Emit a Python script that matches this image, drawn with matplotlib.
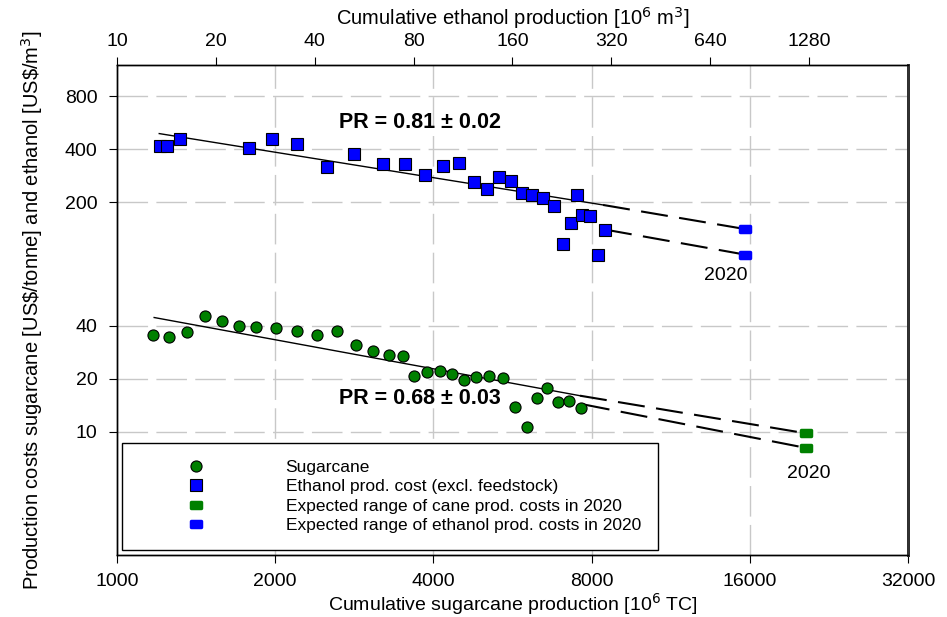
import matplotlib.pyplot as plt
from matplotlib.lines import Line2D
from matplotlib.markers import MarkerStyle
from matplotlib.path import Path
from matplotlib.ticker import NullLocator

plt.rcParams['font.family'] = ['Liberation Sans', 'DejaVu Sans']

# sugarcane: cumulative production [10^6 TC] and cost [US$/tonne]
cane_prod = [1169, 1258, 1361, 1470, 1582, 1707, 1836, 2007, 2200, 2399,
             2622, 2846, 3066, 3289, 3506, 3670, 3894, 4117, 4334, 4580,
             4827, 5103, 5420, 5720, 6028, 6289, 6581, 6915, 7255, 7637]
cane_cost = [35.4, 34.5, 36.7, 45.0, 42.5, 40.0, 39.2, 38.5, 37.0, 35.3,
             37.2, 31.0, 28.8, 27.3, 27.0, 20.8, 21.7, 22.0, 21.3, 19.7,
             20.5, 20.7, 20.1, 13.8, 10.7, 15.5, 17.7, 14.8, 15.0, 13.7]

# ethanol: cumulative production [10^6 m3] and cost [US$/m3]
eth_prod = [13.5, 14.2, 15.6, 25.3, 29.6, 35.4, 43.5, 52.6, 64.4, 75.3,
            86.6, 98.5, 110, 122, 134, 146, 158, 171, 184, 198,
            214, 228, 241, 251, 261, 276, 291, 306]
eth_cost = [414, 419, 456, 405, 459, 430, 317, 376, 329, 331,
            285, 322, 334, 259, 238, 277, 263, 226, 220, 211,
            191, 116, 153, 221, 169, 168, 101, 140]

# experience curves and extrapolation to 2020
cane_fit_x, cane_fit_y = [1177, 7604], [44.4, 16.0]
cane_hi_x, cane_hi_y = [7604, 20440], [16.0, 9.8]
cane_lo_x, cane_lo_y = [7700, 20440], [14.3, 8.1]
eth_fit_x, eth_fit_y = [13.45, 302], [490, 193]
eth_hi_x, eth_hi_y = [302, 815], [193, 141]
eth_lo_x, eth_lo_y = [306, 815], [140, 101]

cane_2020_x, cane_2020_y = [20440, 20440], [9.8, 8.1]
eth_2020_x, eth_2020_y = [815, 815], [141, 101]

bottom_ticks = [1000, 2000, 4000, 8000, 16000, 32000]
top_ticks = [10, 20, 40, 80, 160, 320, 640, 1280]
y_ticks = [10, 20, 40, 200, 400, 800]

green = '#008000'
blue = '#0000ff'
grid_c = '#c8c8c8'

rr = MarkerStyle(Path([(-0.75, -0.5), (0.75, -0.5), (0.75, 0.5), (-0.75, 0.5), (-0.75, -0.5)],
                      [1, 2, 2, 2, 79]), joinstyle='round')

fig = plt.figure(figsize=(9.47, 6.17), dpi=100)
ax = fig.add_axes([0.1235, 0.1005, 0.8353, 0.7942])
ax.set_xscale('log', base=2)
ax.set_yscale('log', base=2)
ax.set_xlim(1000, 32000)
ax.set_ylim(2, 1200)

ax2 = ax.twiny()
ax2.set_xscale('log', base=2)
ax2.set_xlim(10, 2560)

# grid
ax.set_xticks(bottom_ticks)
ax.set_xticklabels([str(t) for t in bottom_ticks])
ax.set_yticks(y_ticks)
ax.set_yticklabels([str(t) for t in y_ticks])
ax.xaxis.set_minor_locator(NullLocator())
ax.yaxis.set_minor_locator(NullLocator())
for t in bottom_ticks[1:-1]:
    ax.axvline(t, color=grid_c, lw=1, dashes=(22, 6), zorder=0)
for t in y_ticks:
    ax.axhline(t, color=grid_c, lw=1, dashes=(22, 6), zorder=0)

ax2.set_xticks(top_ticks)
ax2.set_xticklabels([str(t) for t in top_ticks])
ax2.xaxis.set_minor_locator(NullLocator())

# sugarcane
ax.plot(cane_fit_x, cane_fit_y, color='black', lw=1, zorder=2)
ax.plot(cane_hi_x, cane_hi_y, color='black', lw=1.5, dashes=(13, 5.5), zorder=2)
ax.plot(cane_lo_x, cane_lo_y, color='black', lw=1.5, dashes=(13, 5.5), zorder=2)
ax.plot(cane_prod, cane_cost, 'o', color=green, mec='black', mew=0.8, ms=8, zorder=3)
ax.plot(cane_2020_x, cane_2020_y, ls='none', marker=rr, color=green, mec=green,
        ms=7, mew=2.5, zorder=3)

# ethanol
ax2.plot(eth_fit_x, eth_fit_y, color='black', lw=1, zorder=2)
ax2.plot(eth_hi_x, eth_hi_y, color='black', lw=1.5, dashes=(13, 5.5), zorder=2)
ax2.plot(eth_lo_x, eth_lo_y, color='black', lw=1.5, dashes=(13, 5.5), zorder=2)
ax2.plot(eth_prod, eth_cost, 's', color=blue, mec='black', mew=0.8, ms=9, zorder=3)
ax2.plot(eth_2020_x, eth_2020_y, ls='none', marker=rr, color=blue, mec=blue,
         ms=7, mew=2.5, zorder=3)

# annotations
ax.text(2645, 563, 'PR = 0.81 \u00b1 0.02', fontsize=15.5, fontweight='bold', va='center')
ax.text(2645, 15.4, 'PR = 0.68 \u00b1 0.03', fontsize=15.5, fontweight='bold', va='center')
ax.text(15810, 77, '2020', fontsize=14, ha='right', va='center')
ax.text(20740, 5.79, '2020', fontsize=14, ha='center', va='center')

# axes styling
for s in ['left', 'bottom', 'top']:
    ax.spines[s].set_linewidth(1)
    ax2.spines[s].set_linewidth(1)
ax.spines['right'].set_linewidth(2)
ax2.spines['right'].set_linewidth(2)
ax2.spines['right'].set_color('#333333')
ax.tick_params(axis='x', direction='out', length=6, pad=7, labelsize=14)
ax.tick_params(axis='y', direction='out', length=6, pad=8, labelsize=14, right=False)
ax2.tick_params(axis='x', direction='out', length=6, pad=5, labelsize=14)

ax.set_xlabel('Cumulative sugarcane production [10$^6$ TC]', fontsize=14, labelpad=0.5)
ax2.set_xlabel('Cumulative ethanol production [10$^6$ m$^3$]', fontsize=14.5, labelpad=6)
ax.set_ylabel('Production costs sugarcane [US\\$/tonne] and ethanol [US\\$/m$^3$]',
              fontsize=14.5, labelpad=14)

handles = [
    Line2D([], [], ls='none', marker='o', color=green, mec='black', mew=0.8, ms=8),
    Line2D([], [], ls='none', marker='s', color=blue, mec='black', mew=0.8, ms=9),
    Line2D([], [], ls='none', marker=rr, color=green, mec=green, ms=7, mew=2.5),
    Line2D([], [], ls='none', marker=rr, color=blue, mec=blue, ms=7, mew=2.5),
]
labels = ['Sugarcane', 'Ethanol prod. cost (excl. feedstock)',
          'Expected range of cane prod. costs in 2020',
          'Expected range of ethanol prod. costs in 2020']
leg = ax2.legend(handles, labels, loc='upper left', bbox_to_anchor=(0.006, 0.2286),
                 bbox_transform=ax.transAxes, fontsize=12.5, frameon=True, fancybox=False,
                 framealpha=1, edgecolor='black', borderpad=0.96, labelspacing=0.25,
                 handlelength=6.6, handletextpad=1.88, borderaxespad=0)
leg.get_frame().set_linewidth(1)

fig.savefig('out.png', dpi=100)
